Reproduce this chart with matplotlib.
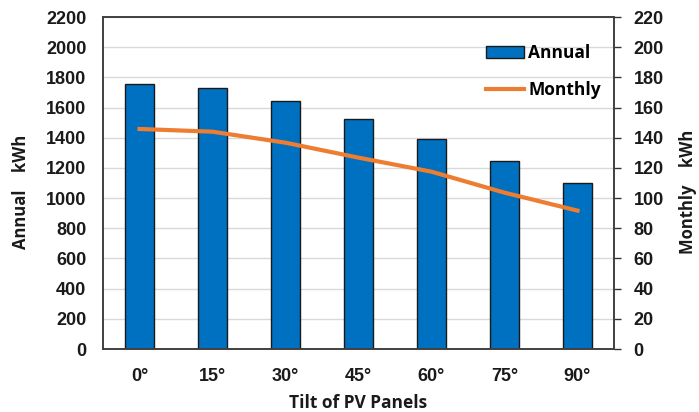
import matplotlib
matplotlib.use("Agg")
import matplotlib.pyplot as plt
import numpy as np

categories = ["0°", "15°", "30°", "45°", "60°", "75°", "90°"]
annual = [1754, 1727, 1645, 1526, 1391, 1248, 1102]
monthly = [145.8, 144.0, 136.7, 126.8, 117.5, 103.6, 91.7]
left_ticks = list(range(0, 2201, 200))
right_ticks = list(range(0, 221, 20))

W, H = 699, 412
fig = plt.figure(figsize=(W/100, H/100), dpi=100)
ax = fig.add_axes([103/W, 1 - 349/H, (614-103)/W, (349-17)/H])
x = np.arange(len(categories))

ax.bar(x, annual, width=0.40, color="#0070C0", edgecolor="#1a1a1a", linewidth=1.0,
       label="Annual", zorder=2)
ax.set_xlim(-0.5, 6.5)
ax.set_ylim(0, 2200)
ax.set_yticks(left_ticks)
ax.grid(axis="y", color="#d9d9d9", linewidth=1.0, zorder=0)
ax.set_axisbelow(True)
ax.set_xticks(x)
ax.set_xticklabels(categories)
ax.tick_params(axis="y", length=0, pad=12)
ax.tick_params(axis="x", length=0, pad=13.5)
for lbl in ax.get_yticklabels() + ax.get_xticklabels():
    lbl.set_fontfamily("Liberation Sans")
    lbl.set_fontweight("bold")
    lbl.set_fontsize(13)
    lbl.set_color("#1a1a1a")

ax2 = ax.twinx()
ax2.plot(x, monthly, color="#ED7D31", linewidth=3, label="Monthly", zorder=3)
ax2.set_ylim(0, 220)
ax2.set_yticks(right_ticks)
ax2.tick_params(axis="y", length=5, width=1, direction="out", pad=9, color="#333333")
for lbl in ax2.get_yticklabels():
    lbl.set_fontfamily("Liberation Sans")
    lbl.set_fontweight("bold")
    lbl.set_fontsize(13)
    lbl.set_color("#1a1a1a")

for a in (ax, ax2):
    for s in a.spines.values():
        s.set_color("#404040")
        s.set_linewidth(1.2)

lab = dict(fontfamily="Open Sans", fontweight="bold", color="#1a1a1a")
fig.text(358/W, 1 - 408/H, "Tilt of PV Panels", ha="center", va="baseline",
         fontsize=12.5, **lab)
fig.text(21.5/W, 1 - 192/H, "Annual    kWh", ha="center", va="center", rotation=90,
         fontsize=12, **lab)
fig.text(688/W, 1 - 192/H, "Monthly    kWh", ha="center", va="center", rotation=90,
         fontsize=12, **lab)

h1, l1 = ax.get_legend_handles_labels()
h2, l2 = ax2.get_legend_handles_labels()
leg = ax2.legend(h1 + h2, l1 + l2, loc="upper right", bbox_to_anchor=(1.005, 0.965),
                 frameon=False, labelspacing=1.1, handlelength=2.2, handletextpad=0.25,
                 prop={"family": "Open Sans", "weight": "bold", "size": 12.5})
fig.savefig("out.png", dpi=100)
